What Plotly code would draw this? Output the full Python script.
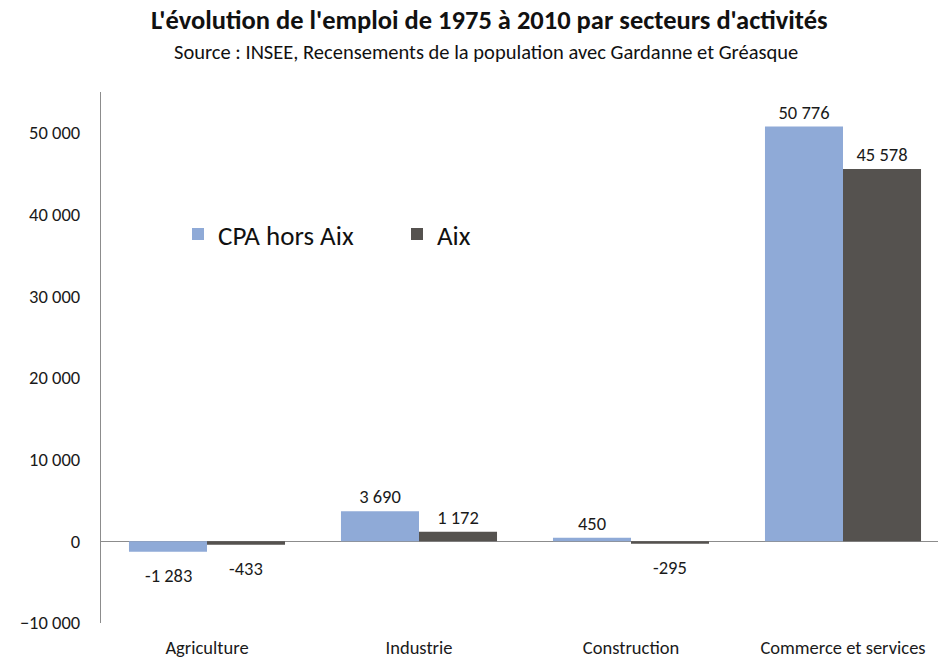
import plotly.graph_objects as go

# Employment change 1975-2010 by sector
secteurs = ["Agriculture", "Industrie", "Construction", "Commerce et services"]
cpa_hors_aix = [-1283, 3690, 450, 50776]
aix = [-433, 1172, -295, 45578]
y_ticks = [-10000, 0, 10000, 20000, 30000, 40000, 50000]


def fmt(v):
    return f"{v:,}".replace(",", " ")


FONT = "Carlito, Lato, 'Open Sans', sans-serif"
SMALL = 18.5
TXT = "#1A1A1A"

fig = go.Figure()
series = [("CPA hors Aix", cpa_hors_aix, "#8FAAD7", -39),
          ("Aix", aix, "#55524F", 39)]
annotations = []
for name, vals, color, dx in series:
    # positive values labelled above the bar; negative ones below via annotations
    fig.add_trace(go.Bar(
        name=name, x=secteurs, y=vals,
        marker=dict(color=color, line=dict(width=0)),
        text=[fmt(v) if v >= 0 else "" for v in vals], textposition="outside",
        textfont=dict(size=SMALL, color=TXT, family=FONT),
        constraintext="none", cliponaxis=False,
    ))
    for s, v in zip(secteurs, vals):
        if v < 0:
            annotations.append(dict(
                text=fmt(v), x=s, y=v, xref="x", yref="y", xshift=dx,
                yanchor="top", xanchor="center", yshift=-10, showarrow=False,
                font=dict(size=SMALL, color=TXT, family=FONT)))

L, T, B = 101, 92, 34
W, H = 938, 659
plot_w = W - L

annotations += [
    dict(text="<b>L'évolution de l'emploi de 1975 à 2010 par secteurs d'activités</b>",
         xref="paper", yref="paper", x=(489 - L) / plot_w, y=1 + (T - 20) / (625 - T),
         xanchor="center", yanchor="middle", showarrow=False,
         font=dict(size=26.5, color="#111111", family=FONT)),
    dict(text="Source : INSEE, Recensements de la population avec Gardanne et Gréasque",
         xref="paper", yref="paper", x=(486 - L) / plot_w, y=1 + (T - 52) / (625 - T),
         xanchor="center", yanchor="middle", showarrow=False,
         font=dict(size=20.5, color="#111111", family=FONT)),
]

fig.update_layout(
    width=W, height=H,
    margin=dict(l=L, r=0, t=T, b=B),
    paper_bgcolor="white", plot_bgcolor="white",
    separators=", ",
    font=dict(family=FONT, color=TXT, size=SMALL),
    barmode="group", bargap=0.264, bargroupgap=0,
    showlegend=True,
    legend=dict(
        orientation="h", x=(178 - L) / plot_w, xanchor="left",
        y=(625 - 235) / (625 - T), yanchor="middle",
        font=dict(size=27, family=FONT, color="#111111"),
        bgcolor="rgba(0,0,0,0)", entrywidth=174, entrywidthmode="pixels",
        itemsizing="constant",
    ),
    xaxis=dict(
        range=[-0.5, -0.5 + plot_w / 212], showgrid=False, showline=False,
        ticks="", tickfont=dict(size=SMALL, color=TXT), ticklabelstandoff=11,
        fixedrange=True,
    ),
    yaxis=dict(
        range=[-10000, 55000], tickvals=y_ticks, tickformat=",d",
        showgrid=False, showline=True, linecolor="#8C8C8C", linewidth=1.2,
        zeroline=True, zerolinecolor="#8C8C8C", zerolinewidth=1.2,
        ticks="", tickfont=dict(size=SMALL, color=TXT), ticklabelstandoff=16,
    ),
    annotations=annotations,
)

fig.write_html("out.html")
